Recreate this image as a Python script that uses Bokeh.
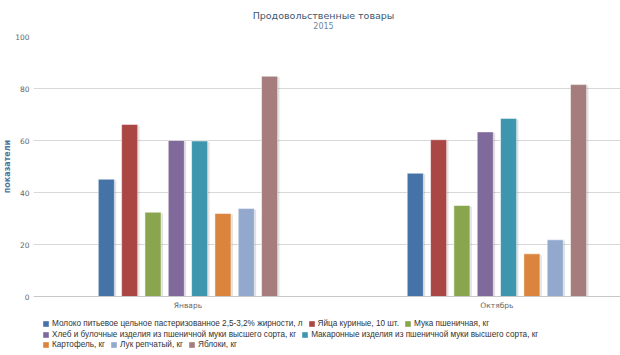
from bokeh.plotting import figure
from bokeh.models import Legend, LegendItem, FixedTicker, Range1d, Label, ColumnDataSource
from bokeh.layouts import column
from bokeh.embed import file_html
from bokeh.resources import INLINE

chart_title = "Продовольственные товары"
chart_subtitle = "2015"
categories = ["Январь", "Октябрь"]
series_names = [
    "Молоко питьевое цельное пастеризованное 2,5-3,2% жирности, л",
    "Яйца куриные, 10 шт.",
    "Мука пшеничная, кг",
    "Хлеб и булочные изделия из пшеничной муки высшего сорта, кг",
    "Макаронные изделия из пшеничной муки высшего сорта, кг",
    "Картофель, кг",
    "Лук репчатый, кг",
    "Яблоки, кг",
]
values_jan = [45.1, 66.2, 32.4, 60.0, 59.8, 31.9, 33.8, 84.7]
values_oct = [47.4, 60.3, 35.0, 63.3, 68.5, 16.4, 21.8, 81.5]
colors = ["#4572A7", "#AA4643", "#89A54E", "#80699B", "#3D96AE", "#DB843D", "#92A8CD", "#A47D7C"]
y_ticks = [0, 20, 40, 60, 80, 100]

FONT = "DejaVu Sans"
LFONT = "Liberation Sans"

# title strip (frame aligned with the chart frame by the column layout)
tf = figure(width=620, height=30, output_backend="svg", toolbar_location=None,
            x_range=Range1d(0, 1), y_range=Range1d(0, 1),
            x_axis_type=None, y_axis_type=None,
            min_border_left=0, min_border_right=0, min_border_top=0, min_border_bottom=0)
tf.grid.visible = False
tf.outline_line_color = None
tf.add_layout(Label(x=290, y=15, x_units="screen", y_units="screen", text=chart_title,
                    text_font=FONT, text_font_size="9.5px", text_color="#3E576F",
                    text_align="center", text_baseline="middle"))
tf.add_layout(Label(x=290, y=5, x_units="screen", y_units="screen", text=chart_subtitle,
                    text_font=FONT, text_font_size="8px", text_color="#6D869F",
                    text_align="center", text_baseline="middle"))

p = figure(width=620, height=282, output_backend="svg", toolbar_location=None,
           x_range=Range1d(-0.5, 1.4), y_range=Range1d(0, 100),
           min_border_left=33, min_border_right=0, min_border_top=6, min_border_bottom=15)
p.outline_line_color = None

step = 0.0755
bar_w = 0.052
n = len(series_names)
for i, name in enumerate(series_names):
    xs = [c + (i - (n - 1) / 2) * step for c in range(len(categories))]
    tops = [values_jan[i], values_oct[i]]
    src = ColumnDataSource(dict(x=xs, top=tops))
    shadow = dict(x=[x + 0.006 for x in xs], top=[t - 0.4 for t in tops])
    p.vbar(x="x", top="top", width=bar_w, source=ColumnDataSource(shadow),
           fill_color="black", fill_alpha=0.12, line_color=None)
    p.vbar(x="x", top="top", width=bar_w, source=src,
           fill_color=colors[i], line_color="white", line_width=0.5)

# axes
xa = p.xaxis[0]
xa.ticker = FixedTicker(ticks=list(range(len(categories))))
xa.major_label_overrides = {i: c for i, c in enumerate(categories)}
xa.axis_line_color = "#C8C8C8"
xa.major_tick_line_color = None
xa.minor_tick_line_color = None
xa.major_tick_out = 0
xa.major_tick_in = 0
xa.major_label_text_font = FONT
xa.major_label_text_font_size = "7.5px"
xa.major_label_text_color = "#666666"
xa.major_label_standoff = 4

ya = p.yaxis[0]
ya.ticker = FixedTicker(ticks=y_ticks)
ya.axis_line_color = None
ya.major_tick_line_color = None
ya.minor_tick_line_color = None
ya.major_tick_out = 0
ya.major_tick_in = 0
ya.major_label_text_font = FONT
ya.major_label_text_font_size = "7.5px"
ya.major_label_text_color = "#666666"
ya.major_label_standoff = 4
ya.axis_label = "показатели"
ya.axis_label_text_font = FONT
ya.axis_label_text_font_size = "8px"
ya.axis_label_text_font_style = "bold"
ya.axis_label_text_color = "#4D759E"
ya.axis_label_standoff = 0

p.xgrid.grid_line_color = None
p.ygrid.grid_line_color = "#D8D8D8"
p.ygrid.ticker = FixedTicker(ticks=y_ticks)

# legend strip (frame aligned with the chart frame by the column layout)
lf = figure(width=620, height=43, output_backend="svg", toolbar_location=None,
            x_range=Range1d(0, 1), y_range=Range1d(0, 1),
            x_axis_type=None, y_axis_type=None,
            min_border_left=0, min_border_right=0, min_border_top=0, min_border_bottom=0)
lf.grid.visible = False
lf.outline_line_color = None
keys = []
for i, name in enumerate(series_names):
    keys.append(lf.vbar(x=[-5], top=[0], width=0.1, fill_color=colors[i], line_color=None))

rows = [[0, 1, 2], [3, 4], [5, 6, 7]]
row_bottom = [27, 16.5, 6]
for k, row in enumerate(rows):
    items = [LegendItem(label=series_names[i], renderers=[keys[i]]) for i in row]
    lg = Legend(items=items, orientation="horizontal", location=(9, row_bottom[k]),
                glyph_width=7, glyph_height=7, label_height=9, label_width=10,
                label_text_font=LFONT, label_text_font_size="8.2px", label_text_color="#333333",
                label_standoff=3, spacing=5, padding=1, margin=0,
                border_line_color=None, background_fill_alpha=0)
    lf.add_layout(lg, "center")

layout = column(tf, p, lf, spacing=0)
open("out.html", "w").write(file_html(layout, INLINE))
